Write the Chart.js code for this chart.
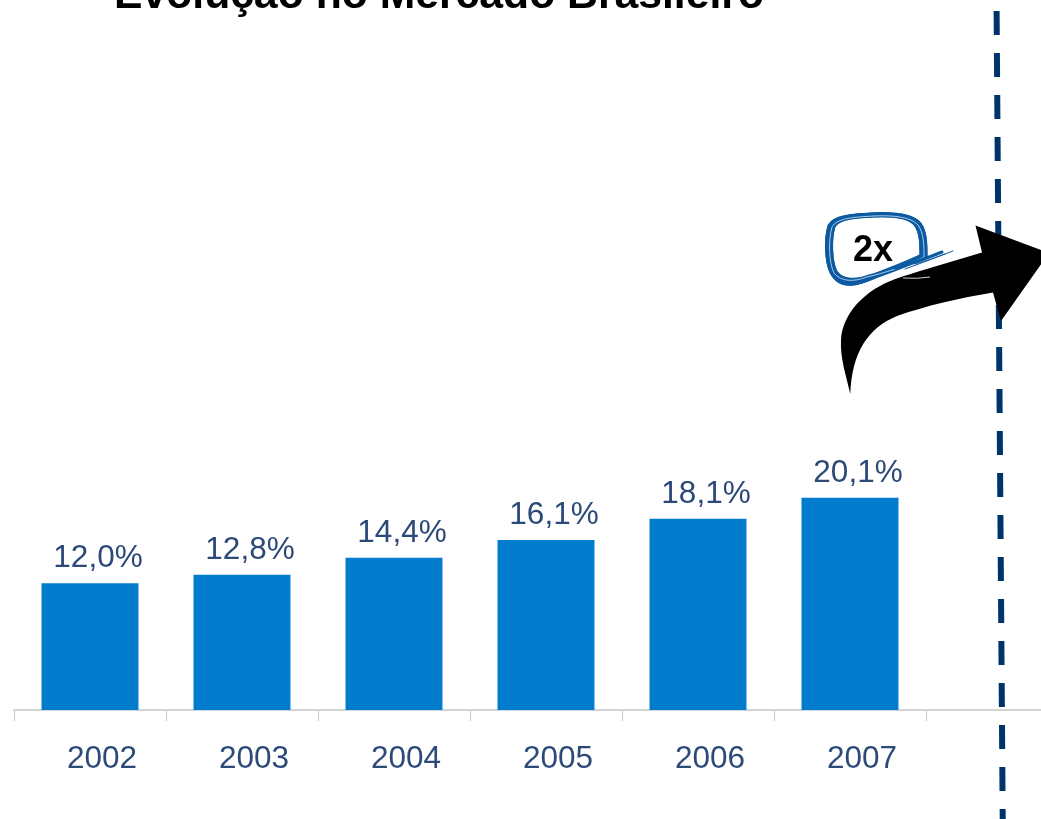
<!DOCTYPE html>
<html>
<head>
<meta charset="utf-8">
<title>Evolução no Mercado Brasileiro</title>
<script src="https://cdn.jsdelivr.net/npm/chart.js@4/dist/chart.umd.min.js"></script>
<style>
  html, body { margin: 0; padding: 0; background: #fff; overflow: hidden; }
  #wrap { width: 1041px; height: 819px; overflow: hidden; }
  canvas { display: block; }
</style>
</head>
<body>
<div id="wrap"><canvas id="myChart" width="1100" height="819"></canvas></div>
<script>
const anos = ['2002', '2003', '2004', '2005', '2006', '2007', ''];
const valores = [12.0, 12.8, 14.4, 16.1, 18.1, 20.1, null];
const titulo = 'Evolução no Mercado Brasileiro';
const multiplo = '2x';

const azulTexto = '#2c4a78';

// dashed divider, runs slightly slanted down the page
function linhaTracejada(ctx) {
    ctx.save();
    ctx.strokeStyle = '#003468';
    ctx.lineWidth = 6;
    ctx.setLineDash([24, 18]);
    ctx.beginPath();
    ctx.moveTo(996.6, 11);
    ctx.lineTo(1002.8, 830);
    ctx.stroke();
    ctx.restore();
}

function seta(ctx) {
    ctx.save();
    ctx.fillStyle = '#000';
    ctx.beginPath();
    ctx.moveTo(850.3, 394);
    ctx.bezierCurveTo(846, 375, 840, 358, 841, 340);
    ctx.bezierCurveTo(842, 318, 858, 298, 880, 286);
    ctx.bezierCurveTo(892, 279, 905, 276, 920, 271);
    ctx.lineTo(982, 252.5);
    ctx.lineTo(975.5, 225.5);
    ctx.lineTo(1049, 253);
    ctx.lineTo(1001, 321);
    ctx.lineTo(993, 292.5);
    ctx.bezierCurveTo(960, 298, 925, 306, 897, 316);
    ctx.bezierCurveTo(868, 328, 852, 352, 850.3, 394);
    ctx.closePath();
    ctx.fill();
    // thin scratch left on the arrow by the badge strokes
    ctx.strokeStyle = '#cfcfcf';
    ctx.lineWidth = 1;
    ctx.beginPath();
    ctx.moveTo(903, 278);
    ctx.quadraticCurveTo(918, 279, 930, 277);
    ctx.stroke();
    ctx.restore();
}

// hand drawn looking badge: a few loose strokes on top of each other
function volta(ctx, dx, dy, baixo) {
    ctx.beginPath();
    ctx.moveTo(875 + dx, 215 + dy);
    ctx.bezierCurveTo(895 + dx, 214 + dy, 912 + dx, 216 + dy, 919 + dx, 224 + dy);
    ctx.bezierCurveTo(925 + dx, 232 + dy, 925 + dx, 245 + dy, 925 + dx, 256 + dy);
    ctx.bezierCurveTo(905 + dx, 266 + dy, 885 + dx, 272 + dy, 868 + dx, 277 + baixo);
    ctx.bezierCurveTo(855 + dx, 282 + baixo, 842 + dx, 282 + baixo, 835 + dx, 272 + dy);
    ctx.bezierCurveTo(830 + dx, 262 + dy, 829 + dx, 240 + dy, 833 + dx, 226 + dy);
    ctx.bezierCurveTo(838 + dx, 217 + dy, 855 + dx, 216 + dy, 875 + dx, 215 + dy);
    ctx.stroke();
}

function selo(ctx) {
    ctx.save();
    ctx.lineCap = 'round';
    ctx.strokeStyle = '#0b5aa2';
    ctx.lineWidth = 5;
    volta(ctx, 0, 0, 2);
    volta(ctx, -3, 0, 3);
    ctx.lineWidth = 3;
    volta(ctx, -4, 0, 4);
    volta(ctx, 0, -1, 0);
    volta(ctx, 1, 0, -1);
    // white scratches between the strokes
    ctx.strokeStyle = '#d8e6f2';
    ctx.lineWidth = 0.8;
    volta(ctx, -1, 1, 0);
    // tail of the strokes, going off to the right
    ctx.strokeStyle = '#0b5aa2';
    ctx.lineWidth = 3;
    ctx.beginPath();
    ctx.moveTo(895, 268);
    ctx.quadraticCurveTo(918, 262, 942, 252);
    ctx.stroke();
    ctx.lineWidth = 1;
    ctx.beginPath();
    ctx.moveTo(905, 269);
    ctx.quadraticCurveTo(930, 260, 953, 251);
    ctx.stroke();
    ctx.beginPath();
    ctx.moveTo(915, 264);
    ctx.quadraticCurveTo(930, 260, 945, 254);
    ctx.stroke();
    ctx.restore();
}

const extras = {
    id: 'extras',
    afterDraw(chart) {
        const ctx = chart.ctx;
        linhaTracejada(ctx);
        selo(ctx);
        seta(ctx);

        ctx.save();
        ctx.textAlign = 'center';
        ctx.textBaseline = 'alphabetic';

        // value labels above the bars
        ctx.fillStyle = azulTexto;
        ctx.font = '31.5px "Liberation Sans"';
        chart.getDatasetMeta(0).data.forEach((barra, i) => {
            if (valores[i] === null) return;
            const txt = valores[i].toFixed(1).replace('.', ',') + '%';
            ctx.fillText(txt, barra.x + 8, barra.y - 16);
        });

        ctx.fillStyle = '#000';
        ctx.font = 'bold 36px "Liberation Sans"';
        ctx.fillText(multiplo, 873, 261);

        ctx.font = 'bold 42.7px "Liberation Sans"';
        ctx.fillText(titulo, 439, 8);
        ctx.restore();
    }
};

const ctx = document.getElementById('myChart').getContext('2d');
const myChart = new Chart(ctx, {
    type: 'bar',
    data: {
        labels: anos,
        datasets: [{
            data: valores,
            backgroundColor: '#027dce',
            barPercentage: 0.638,
            categoryPercentage: 1
        }]
    },
    options: {
        responsive: false,
        animation: false,
        layout: { padding: { left: 14, right: 22, top: 0, bottom: 0 } },
        plugins: {
            legend: { display: false },
            tooltip: { enabled: false }
        },
        scales: {
            x: {
                afterFit: scale => { scale.height = 109; },
                grid: {
                    offset: true,
                    drawOnChartArea: false,
                    color: '#c8c8c8',
                    lineWidth: 1,
                    tickLength: 11
                },
                border: { color: '#d4d4d4', width: 2 },
                ticks: {
                    color: azulTexto,
                    font: { family: '"Liberation Sans"', size: 31.5 },
                    padding: 19,
                    labelOffset: 12,
                    maxRotation: 0,
                    autoSkip: false
                }
            },
            y: {
                display: false,
                min: 0,
                max: 67.2
            }
        }
    },
    plugins: [extras]
});
</script>
</body>
</html>
